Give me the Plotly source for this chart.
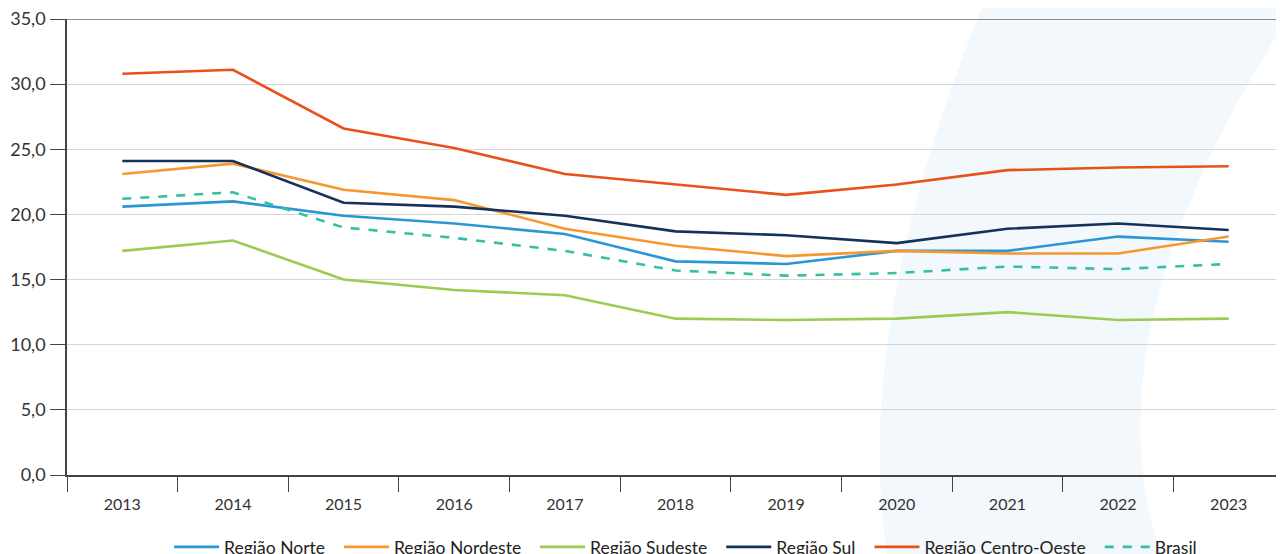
import plotly.graph_objects as go

years = ["2013", "2014", "2015", "2016", "2017", "2018", "2019", "2020", "2021", "2022", "2023"]
norte = [20.6, 21.0, 19.9, 19.3, 18.5, 16.4, 16.2, 17.2, 17.2, 18.3, 17.9]
nordeste = [23.1, 23.9, 21.9, 21.1, 18.9, 17.6, 16.8, 17.2, 17.0, 17.0, 18.3]
sudeste = [17.2, 18.0, 15.0, 14.2, 13.8, 12.0, 11.9, 12.0, 12.5, 11.9, 12.0]
sul = [24.1, 24.1, 20.9, 20.6, 19.9, 18.7, 18.4, 17.8, 18.9, 19.3, 18.8]
centro_oeste = [30.8, 31.1, 26.6, 25.1, 23.1, 22.3, 21.5, 22.3, 23.4, 23.6, 23.7]
brasil = [21.2, 21.7, 19.0, 18.2, 17.2, 15.7, 15.3, 15.5, 16.0, 15.8, 16.2]
y_ticks = [0, 5, 10, 15, 20, 25, 30, 35]
y_labels = ["0,0", "5,0", "10,0", "15,0", "20,0", "25,0", "30,0", "35,0"]

series = [
    ("Região Norte", norte, "#2A97D4", "solid"),
    ("Região Nordeste", nordeste, "#F7972F", "solid"),
    ("Região Sudeste", sudeste, "#9CCB53", "solid"),
    ("Região Sul", sul, "#15325B", "solid"),
    ("Região Centro-Oeste", centro_oeste, "#E8511A", "solid"),
    ("Brasil", brasil, "#37BFA6", "dash"),
]

PAD = "\u00a0\u00a0"  # extra spacing between legend entries

fig = go.Figure()
for name, vals, color, dash in series:
    fig.add_trace(go.Scatter(x=years, y=vals, name=name + PAD, mode="lines",
                             line=dict(color=color, width=2.6, dash=dash)))

# page has an 8px body margin; figure coords = page coords - 8
OFF = 8
L, R, T, B = 67 - OFF, 1284 - OFF, 19 - OFF, 475 - OFF
FW, FH = 1284 - OFF, 554 - OFF
W, H = R - L, B - T
def px(x):
    return (x - OFF - L) / W
def py(y):
    return (B - (y - OFF)) / H

path = (f"M {px(985)},{py(0)} Q {px(850)},{py(330)} {px(888)},{py(560)} "
        f"L {px(1163)},{py(560)} Q {px(1080)},{py(330)} {px(1300)},{py(0)} Z")
fig.add_shape(type="path", path=path, xref="paper", yref="paper",
              fillcolor="#F3F8FC", line=dict(width=0), layer="below")
fig.add_shape(type="line", xref="paper", yref="y", x0=0, x1=1, y0=35, y1=35,
              line=dict(color="#222222", width=1.2), layer="above")

fig.update_layout(
    width=FW, height=FH,
    margin=dict(l=L, r=FW - R, t=T, b=FH - B, autoexpand=False),
    paper_bgcolor="white", plot_bgcolor="rgba(0,0,0,0)",
    font=dict(family="Lato, Open Sans, sans-serif", color="#333333"),
    showlegend=True,
    legend=dict(orientation="h", x=0.512, xanchor="center", y=-0.158, yanchor="middle",
                font=dict(size=17.5, color="#222222"), itemwidth=45,
                bgcolor="rgba(0,0,0,0)", traceorder="normal"),
)
fig.update_xaxes(type="category", range=[-0.5, 10.5], tickson="boundaries",
                 ticks="outside", ticklen=15, tickcolor="#444444", showline=True,
                 linecolor="#444444", linewidth=1.5, showgrid=False,
                 ticklabelstandoff=14, tickfont=dict(size=16, color="#333333"))
fig.update_yaxes(range=[0, 35], tickvals=y_ticks, ticktext=y_labels, ticks="outside",
                 ticklen=15, tickcolor="#444444", showline=True, linecolor="#444444",
                 linewidth=1.5, showgrid=True, gridcolor="#D6D6D6", gridwidth=1,
                 zeroline=False, ticklabelstandoff=1, ticklabeloverflow="allow",
                 tickfont=dict(size=18, color="#333333"))

fig.write_html("out.html")
